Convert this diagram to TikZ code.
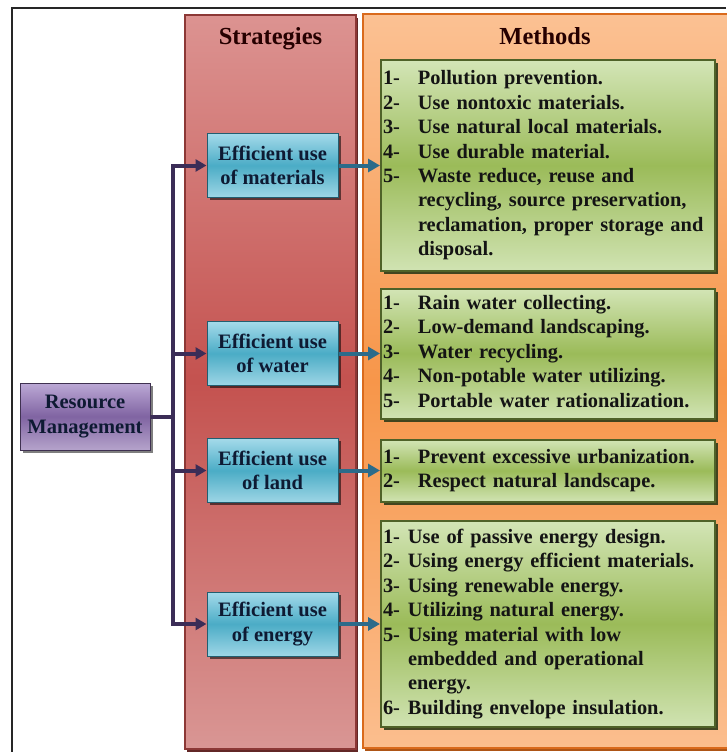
\documentclass[tikz,border=0pt]{standalone}
\usepackage{fontspec}
\setmainfont{Liberation Serif}
\usetikzlibrary{arrows.meta,shadows}

\definecolor{redTop}{HTML}{DC9391}
\definecolor{redMid}{HTML}{C4524F}
\definecolor{redBot}{HTML}{D99694}
\definecolor{redEdge}{HTML}{8C3836}
\definecolor{orTop}{HTML}{FBC193}
\definecolor{orMid}{HTML}{F7964A}
\definecolor{orBot}{HTML}{FBBE8E}
\definecolor{orEdge}{HTML}{D96A1C}
\definecolor{blTop}{HTML}{A4DAEA}
\definecolor{blMid}{HTML}{4BACC6}
\definecolor{blBot}{HTML}{9ED6E6}
\definecolor{blEdge}{HTML}{215E70}
\definecolor{grTop}{HTML}{D3E5B6}
\definecolor{grMid}{HTML}{9BBB59}
\definecolor{grBot}{HTML}{D0E3B2}
\definecolor{grEdge}{HTML}{4F6228}
\definecolor{puTop}{HTML}{BCA9D6}
\definecolor{puMid}{HTML}{8064A2}
\definecolor{puBot}{HTML}{B5A3CB}
\definecolor{puEdge}{HTML}{3F3151}
\definecolor{trunkCol}{HTML}{3B2D57}
\definecolor{tealCol}{HTML}{2C6B8A}
\definecolor{inkCol}{HTML}{141414}
\definecolor{navyCol}{HTML}{0E1A33}

\tikzset{
  column/.style={line width=1.6pt},
  headtext/.style={font=\fontsize{24.5}{28}\selectfont\bfseries, text=#1, anchor=base},
  strat/.style={draw=blEdge, line width=1pt, top color=blTop, bottom color=blBot,
    middle color=blMid, minimum width=131pt, minimum height=64pt, inner sep=0pt,
    align=center, text=navyCol, font=\fontsize{20.5}{24.5}\selectfont\bfseries,
    drop shadow={shadow xshift=2.5pt, shadow yshift=-2.5pt, fill=black, opacity=0.55}},
  resource/.style={draw=puEdge, line width=1pt, top color=puTop, bottom color=puBot,
    middle color=puMid, minimum width=130pt, minimum height=67pt, inner sep=0pt,
    align=center, text=navyCol, font=\fontsize{20.5}{25}\selectfont\bfseries,
    drop shadow={shadow xshift=2.5pt, shadow yshift=-2.5pt, fill=black, opacity=0.5}},
  meth/.style={draw=grEdge, line width=2pt, top color=grTop, bottom color=grBot,
    middle color=grMid, minimum width=334pt, text width=330pt, inner xsep=2pt,
    inner ysep=0pt, align=left, text=inkCol,
    font=\fontsize{20.4}{24.4}\selectfont\bfseries,
    drop shadow={shadow xshift=3pt, shadow yshift=-3pt, fill=grEdge!60!black, opacity=0.9}},
  trunkline/.style={draw=trunkCol, line width=4pt},
  trunkarrow/.style={trunkline, -{Triangle[length=11pt,width=12pt]}},
  methodarrow/.style={draw=tealCol, line width=4pt, -{Triangle[length=12pt,width=13pt]}}
}

\begin{document}
\begin{tikzpicture}[x=1pt,y=-1pt]
\useasboundingbox (0,0) rectangle (726,752);

% outer frame
\draw[line width=2pt, black!85] (12,752) -- (12,8) -- (726,8);

% the two background columns
\fill[redEdge!70!black] (187,18) rectangle (358,752);
\draw[column, draw=redEdge, top color=redTop, bottom color=redBot, middle color=redMid]
  (185,15) rectangle (356,749);
\fill[orEdge!80!black] (365,16) rectangle (740,751);
\draw[column, draw=orEdge, top color=orTop, bottom color=orBot, middle color=orMid]
  (363,14) rectangle (738,748);

% column headings
\node[headtext=black!85!red] (hstrat) at (270.5,45) {Strategies};
\node[headtext=black!85!red] (hmeth) at (545,45) {Methods};

% root node
\node[resource] (rm) at (85,416.5) {Resource\\Management};

% strategy boxes
\node[strat] (s1) at (272.5,165.5) {Efficient use\\of materials};
\node[strat] (s2) at (272.5,353.5) {Efficient use\\of water};
\node[strat] (s3) at (272.5,470.5) {Efficient use\\of land};
\node[strat] (s4) at (272.5,624) {Efficient use\\of energy};

% method boxes
\node[meth, minimum height=210pt] (m1) at (548,165.5) {\noindent
\begin{tabular}{@{}p{35pt}@{}l@{}}
1- & Pollution prevention.\\
2- & Use nontoxic materials.\\
3- & Use natural local materials.\\
4- & Use durable material.\\
5- & Waste reduce, reuse and\\
   & recycling, source preservation,\\
   & reclamation, proper storage and\\
   & disposal.
\end{tabular}};

\node[meth, minimum height=130pt] (m2) at (548,353.5) {\noindent
\begin{tabular}{@{}p{35pt}@{}l@{}}
1- & Rain water collecting.\\
2- & Low-demand landscaping.\\
3- & Water recycling.\\
4- & Non-potable water utilizing.\\
5- & Portable water rationalization.
\end{tabular}};

\node[meth, minimum height=62pt] (m3) at (548,470.5) {\noindent
\begin{tabular}{@{}p{35pt}@{}l@{}}
1- & Prevent excessive urbanization.\\
2- & Respect natural landscape.
\end{tabular}};

\node[meth, minimum height=206pt] (m4) at (548,624) {\noindent
\begin{tabular}{@{}p{25pt}@{}l@{}}
1- & Use of passive energy design.\\
2- & Using energy efficient materials.\\
3- & Using renewable energy.\\
4- & Utilizing natural energy.\\
5- & Using material with low\\
   & embedded and operational\\
   & energy.\\
6- & Building envelope insulation.
\end{tabular}};

% connectors from the root to the strategies
\coordinate (hub) at (173,416.5);
\draw[trunkline] (rm.east) -- (hub);
\draw[trunkarrow] (hub) |- (s1.west);
\draw[trunkarrow] (hub) |- (s2.west);
\draw[trunkarrow] (hub) |- (s3.west);
\draw[trunkarrow] (hub) |- (s4.west);

% connectors from the strategies to their methods
\draw[methodarrow] (s1.east) -- (m1.west);
\draw[methodarrow] (s2.east) -- (m2.west);
\draw[methodarrow] (s3.east) -- (m3.west);
\draw[methodarrow] (s4.east) -- (m4.west);
\end{tikzpicture}
\end{document}
